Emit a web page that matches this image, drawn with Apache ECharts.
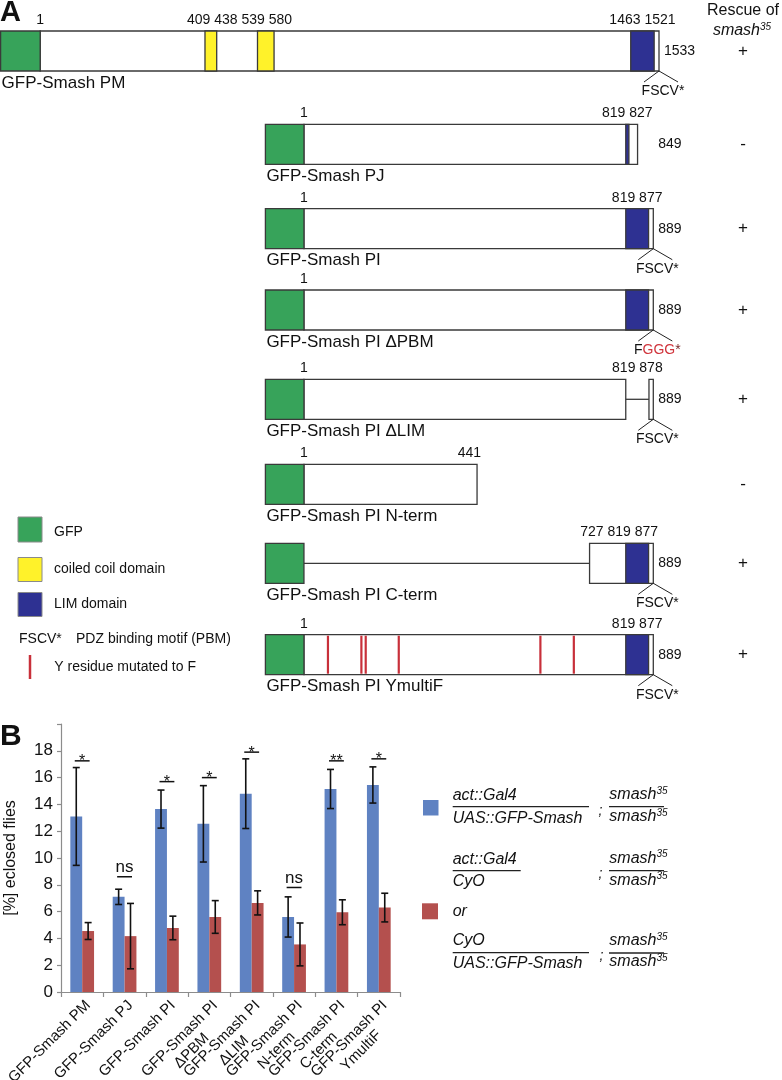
<!DOCTYPE html>
<html><head><meta charset="utf-8">
<script src="https://cdn.jsdelivr.net/npm/echarts@6/dist/echarts.min.js"></script>
<style>html,body{margin:0;padding:0;background:#fff;}#c{width:782px;height:1080px;}</style>
</head><body><div id="c"></div>
<script>
// ---------------- Panel A data (residue numbers) ----------------
const constructNames = ['GFP-Smash PM','GFP-Smash PJ','GFP-Smash PI','GFP-Smash PI ΔPBM','GFP-Smash PI ΔLIM','GFP-Smash PI N-term','GFP-Smash PI C-term','GFP-Smash PI YmultiF'];
const constructLengths = [1533, 849, 889, 889, 889, 441, 889, 889];
const constructStarts = [1, 1, 1, 1, 1, 1, 727, 1];
const coiledCoilDomains = [[[409, 438], [539, 580]], [], [], [], [], [], [], []];
const limDomains = [[1463, 1521], [819, 827], [819, 877], [819, 877], null, null, [819, 877], [819, 877]];
const deletedSpans = [null, null, null, null, [819, 878], null, null, null];
const yToFSites = [62, 147, 158, 242, 602, 687];
const pbmMotifs = ['FSCV*', '', 'FSCV*', 'FGGG*', 'FSCV*', '', 'FSCV*', 'FSCV*'];
const rescueOfSmash35 = ['+', '-', '+', '+', '+', '-', '+', '+'];
const residueLabelGroups = [
  [[1], [409, 438, 539, 580], [1463, 1521]],
  [[1], [819, 827]],
  [[1], [819, 877]],
  [[1]],
  [[1], [819, 878]],
  [[1], [441]],
  [[727, 819, 877]],
  [[1], [819, 877]]
];
const lengthLabels = [1533, 849, 889, 889, 889, null, 889, 889];

// ---------------- Panel B data ----------------
const barCategories = ['GFP-Smash PM','GFP-Smash PJ','GFP-Smash PI','GFP-Smash PI\nΔPBM','GFP-Smash PI\nΔLIM','GFP-Smash PI\nN-term','GFP-Smash PI\nC-term','GFP-Smash PI\nYmultiF'];
const rescueMeans   = [13.1, 7.1, 13.65, 12.55, 14.8, 5.6, 15.15, 15.45];
const rescueErrors  = [3.65, 0.57, 1.42, 2.85, 2.6, 1.5, 1.46, 1.35];
const controlMeans  = [4.55, 4.17, 4.78, 5.6, 6.65, 3.55, 5.95, 6.3];
const controlErrors = [0.63, 2.44, 0.88, 1.22, 0.9, 1.6, 0.93, 1.07];
const significance = ['*', 'ns', '*', '*', '*', 'ns', '**', '*'];
const significanceLevels = [17.25, 8.6, 15.7, 16.0, 17.9, 7.8, 17.25, 17.4];
const yTickValues = [0, 2, 4, 6, 8, 10, 12, 14, 16, 18];

// ---------------- styling / layout ----------------
const FONT = '"Liberation Sans", Arial, Helvetica, sans-serif';
const C_GFP = '#37a35a', C_CC = '#fff22a', C_LIM = '#2e3192', C_MUT = '#c8303a';
const C_OUT = '#3a3a3a';
const C_BLUE = '#5f82c2', C_RED = '#b4504e';
const GFP_FROM = -97;
const rowTops = [31, 124.3, 208.7, 290, 379.3, 464.3, 543.3, 634.7];
const rowAxisMax = [1533, 889, 889, 889, 889, 889, 889, 889];

const chart = echarts.init(document.getElementById('c'), null, {renderer: 'canvas'});

const grids = [], xAxes = [], yAxes = [], series = [];
rowTops.forEach((t, i) => {
  grids.push(i === 0 ? {left: 0.6, top: t, width: 658.4, height: 40, outerBoundsMode: 'none'}
                     : {left: 265.4, top: t, width: 387.9, height: 40, outerBoundsMode: 'none'});
  xAxes.push({gridIndex: i, type: 'value', min: GFP_FROM, max: rowAxisMax[i], show: false});
  yAxes.push({gridIndex: i, type: 'value', min: 0, max: 1, show: false});
});

function buildRowItems(i) {
  const items = [];
  const s = constructStarts[i], L = constructLengths[i];
  if (s > 1) items.push({kind: 'link', a: 1, b: s});
  const del = deletedSpans[i];
  if (del) {
    items.push({kind: 'body', a: s, b: del[0]});
    items.push({kind: 'link', a: del[0], b: del[1]});
    items.push({kind: 'body', a: del[1], b: L});
  } else items.push({kind: 'body', a: s, b: L});
  items.push({kind: 'gfp', a: GFP_FROM, b: 1});
  coiledCoilDomains[i].forEach(d => items.push({kind: 'cc', a: d[0], b: d[1]}));
  if (limDomains[i]) items.push({kind: 'lim', a: limDomains[i][0], b: limDomains[i][1]});
  if (i === 7) yToFSites.forEach(p => items.push({kind: 'mut', a: p, b: p}));
  if (pbmMotifs[i]) items.push({kind: 'pbm', a: L, b: L, text: pbmMotifs[i]});
  residueLabelGroups[i].forEach(g => items.push({kind: 'num', a: g[0], b: g[g.length - 1], text: g.join(' '), atEnd: g.length === 1 && g[0] === L && L !== 1}));
  if (lengthLabels[i] != null) items.push({kind: 'len', a: rowAxisMax[i], b: rowAxisMax[i], text: String(lengthLabels[i])});
  items.push({kind: 'name', a: GFP_FROM, b: GFP_FROM, text: constructNames[i]});
  items.push({kind: 'rescue', a: GFP_FROM, b: GFP_FROM, text: rescueOfSmash35[i]});
  return items;
}

rowTops.forEach((t, i) => {
  const items = buildRowItems(i);
  series.push({
    type: 'custom', xAxisIndex: i, yAxisIndex: i, silent: true, clip: false,
    data: items.map(it => [it.a, it.b]),
    renderItem: function (params, api) {
      const it = items[params.dataIndex];
      const p0 = api.coord([api.value(0), 1]);
      const p1 = api.coord([api.value(1), 0]);
      const x0 = p0[0], x1 = p1[0], top = p0[1], bot = p1[1], mid = (top + bot) / 2;
      const rect = fill => ({type: 'rect', shape: {x: x0, y: top, width: x1 - x0, height: bot - top},
        style: {fill: fill, stroke: C_OUT, lineWidth: 1.3}});
      const txt = (x, y, text, size, align, va, extra) => ({type: 'text',
        style: Object.assign({x: x, y: y, text: text, fill: '#111', fontSize: size, fontFamily: FONT, align: align, verticalAlign: va}, extra || {})});
      switch (it.kind) {
        case 'body': return rect('#ffffff');
        case 'gfp': return rect(C_GFP);
        case 'cc': return rect(C_CC);
        case 'lim': return rect(C_LIM);
        case 'link': return {type: 'line', shape: {x1: x0, y1: mid, x2: x1, y2: mid}, style: {stroke: C_OUT, lineWidth: 1.3}};
        case 'mut': return {type: 'line', shape: {x1: x0, y1: top + 1, x2: x0, y2: bot - 1}, style: {stroke: C_MUT, lineWidth: 2.2}};
        case 'pbm': {
          const children = [
            {type: 'polyline', shape: {points: [[x1 - 15, bot + 11], [x1, bot], [x1 + 19, bot + 11]]}, style: {stroke: '#222', lineWidth: 1, fill: 'none'}}
          ];
          if (it.text === 'FGGG*') {
            children.push(txt(x1 + 4, bot + 20, '{k|F}{r|GGG}{s|*}', 14, 'center', 'middle', {
              rich: {k: {fill: '#111', fontSize: 14, fontFamily: FONT}, r: {fill: '#d0343c', fontSize: 14, fontFamily: FONT}, s: {fill: '#7a2a2a', fontSize: 14, fontFamily: FONT}}}));
          } else children.push(txt(x1 + 4, bot + 20, it.text, 14, 'center', 'middle'));
          return {type: 'group', children: children};
        }
        case 'num':
          if (it.atEnd) return txt(x1 + 4, top - 11, it.text, 14, 'right', 'middle');
          return txt((x0 + x1) / 2, top - 11, it.text, 14, 'center', 'middle');
        case 'len': return txt(x1 + 5, mid, it.text, 14, 'left', 'middle');
        case 'name': return txt(x0 + 1, bot + 12, it.text, 17, 'left', 'middle');
        case 'rescue': return txt(743, mid, it.text, 17, 'center', 'middle');
      }
    }
  });
});

// ---------------- Panel B chart ----------------
const BI = rowTops.length;
grids.push({left: 61, top: 724, width: 339, height: 268, outerBoundsMode: 'none', containLabel: false});
xAxes.push({
  gridIndex: BI, type: 'category', data: barCategories,
  axisLine: {lineStyle: {color: '#8c8c8c', width: 1.2}},
  axisTick: {show: true, length: 5, lineStyle: {color: '#8c8c8c', width: 1.2}},
  axisLabel: {
    interval: 0, rotate: 45, margin: 5, align: 'right', verticalAlign: 'top', hideOverlap: false,
    formatter: v => v.split('\n').map(s => '{c|' + s + '}').join('\n'),
    rich: {c: {align: 'center', fontSize: 15, fontFamily: FONT, color: '#111', lineHeight: 17}}
  }
});
yAxes.push({
  gridIndex: BI, type: 'value', min: 0, max: 20, interval: 2,
  axisLine: {show: true, lineStyle: {color: '#8c8c8c', width: 1.2}},
  axisTick: {show: true, length: 4, lineStyle: {color: '#8c8c8c', width: 1.2}},
  splitLine: {show: false},
  axisLabel: {fontSize: 17, fontFamily: FONT, color: '#111', margin: 8,
    formatter: v => (yTickValues.indexOf(v) >= 0 ? String(v) : '')},
  name: '[%] eclosed flies', nameLocation: 'middle', nameGap: 42,
  nameTextStyle: {fontSize: 16, fontFamily: FONT, color: '#111'}
});

series.push({type: 'bar', name: 'rescue', xAxisIndex: BI, yAxisIndex: BI, data: rescueMeans,
  barWidth: '28%', barGap: '0%', itemStyle: {color: C_BLUE}, silent: true});
series.push({type: 'bar', name: 'control', xAxisIndex: BI, yAxisIndex: BI, data: controlMeans,
  barWidth: '28%', barGap: '0%', itemStyle: {color: C_RED}, silent: true});

function errorSeries(means, errs, frac) {
  return {
    type: 'custom', xAxisIndex: BI, yAxisIndex: BI, silent: true, z: 5,
    data: means.map((m, i) => [i, m, errs[i]]),
    renderItem: function (params, api) {
      const i = api.value(0), m = api.value(1), e = api.value(2);
      const band = api.size([1, 0])[0];
      const x = api.coord([i, m])[0] + frac * band;
      const yt = api.coord([i, m + e])[1], yb = api.coord([i, m - e])[1];
      const st = {stroke: '#111', lineWidth: 1.6};
      return {type: 'group', children: [
        {type: 'line', shape: {x1: x, y1: yt, x2: x, y2: yb}, style: st},
        {type: 'line', shape: {x1: x - 3.5, y1: yt, x2: x + 3.5, y2: yt}, style: st},
        {type: 'line', shape: {x1: x - 3.5, y1: yb, x2: x + 3.5, y2: yb}, style: st}
      ]};
    }
  };
}
series.push(errorSeries(rescueMeans, rescueErrors, -0.14));
series.push(errorSeries(controlMeans, controlErrors, 0.14));

series.push({
  type: 'custom', xAxisIndex: BI, yAxisIndex: BI, silent: true, z: 6,
  data: significanceLevels.map((v, i) => [i, v]),
  renderItem: function (params, api) {
    const i = api.value(0), v = api.value(1);
    const band = api.size([1, 0])[0];
    const c = api.coord([i, v]);
    const xa = c[0] - 0.14 * band - 1.5, xb = c[0] + 0.14 * band + 1.5;
    const lab = significance[i];
    const isNs = lab === 'ns';
    return {type: 'group', children: [
      {type: 'line', shape: {x1: xa, y1: c[1], x2: xb, y2: c[1]}, style: {stroke: '#111', lineWidth: 1.5}},
      {type: 'text', style: {x: c[0], y: isNs ? c[1] - 1 : c[1] + 1, text: lab, fill: '#111',
        fontSize: isNs ? 17 : 16, fontFamily: FONT, align: 'center', verticalAlign: isNs ? 'bottom' : 'middle'}}
    ]};
  }
});

// ---------------- static annotations (legends, panel letters) ----------------
const T = (x, y, text, size, opts) => ({type: 'text', x: x, y: y, silent: true,
  style: Object.assign({text: text, fill: '#111', fontSize: size, fontFamily: FONT, align: 'left', verticalAlign: 'middle'}, opts || {})});
const HL = (x1, x2, y, w) => ({type: 'line', silent: true, shape: {x1: x1, y1: y, x2: x2, y2: y}, style: {stroke: '#222', lineWidth: w || 1.3}});
const IT = {fontStyle: 'italic'};
const smashRich = {rich: {m: {fontSize: 16, fontFamily: FONT, fontStyle: 'italic', fill: '#111', lineHeight: 18},
  s: {fontSize: 10, fontFamily: FONT, fontStyle: 'italic', fill: '#111', verticalAlign: 'top', lineHeight: 18}}};
const smashFrac = (y1, yl, y2) => [
  T(609.3, y1, '{m|smash}{s|35}', 16, smashRich), HL(609, 664, yl), T(609.3, y2, '{m|smash}{s|35}', 16, smashRich)];

const graphics = [
  T(0, 13, 'A', 29, {fontWeight: 'bold'}),
  T(743, 11, 'Rescue of', 16, {align: 'center'}),
  T(742, 31, '{m|smash}{s|35}', 16, Object.assign({align: 'center'}, smashRich)),
  // legend A
  {type: 'rect', silent: true, shape: {x: 18, y: 517, width: 24, height: 25}, style: {fill: C_GFP, stroke: '#8a8a8a', lineWidth: 1}},
  T(54, 531.7, 'GFP', 14),
  {type: 'rect', silent: true, shape: {x: 18, y: 557.5, width: 24, height: 24}, style: {fill: C_CC, stroke: '#8a8a8a', lineWidth: 1}},
  T(54, 569.3, 'coiled coil domain', 14),
  {type: 'rect', silent: true, shape: {x: 18, y: 592.5, width: 24, height: 24}, style: {fill: C_LIM, stroke: '#8a8a8a', lineWidth: 1}},
  T(54, 604.3, 'LIM domain', 14),
  T(19, 639.3, 'FSCV*', 14), T(76, 639.3, 'PDZ binding motif (PBM)', 14),
  {type: 'line', silent: true, shape: {x1: 30, y1: 655, x2: 30, y2: 679}, style: {stroke: C_MUT, lineWidth: 2.5}},
  T(54.3, 667.3, 'Y residue mutated to F', 14),
  // panel B
  T(0, 737, 'B', 30, {fontWeight: 'bold'}),
  {type: 'rect', silent: true, shape: {x: 423, y: 800, width: 15.5, height: 15.5}, style: {fill: C_BLUE}},
  T(452.7, 796, 'act::Gal4', 16, IT), HL(452.7, 589, 806.7), T(452.7, 818.3, 'UAS::GFP-Smash', 16, IT),
  T(598.5, 811, ';', 14, IT),
  ...smashFrac(795, 806.7, 817),
  T(452.7, 860, 'act::Gal4', 16, IT), HL(452.7, 520.7, 870.7), T(452.7, 881.7, 'CyO', 16, IT),
  T(598.5, 874, ';', 14, IT),
  ...smashFrac(858.5, 870.7, 880.5),
  {type: 'rect', silent: true, shape: {x: 422, y: 903.3, width: 16, height: 16}, style: {fill: C_RED}},
  T(452.7, 911.7, 'or', 16, IT),
  T(452.7, 941, 'CyO', 16, IT), HL(452.7, 589, 952.7), T(452.7, 963.3, 'UAS::GFP-Smash', 16, IT),
  T(599.5, 956, ';', 14, IT),
  ...smashFrac(941, 953, 962)
];

chart.setOption({
  backgroundColor: '#ffffff',
  animation: false,
  grid: grids, xAxis: xAxes, yAxis: yAxes, series: series,
  graphic: graphics
});
</script></body></html>
